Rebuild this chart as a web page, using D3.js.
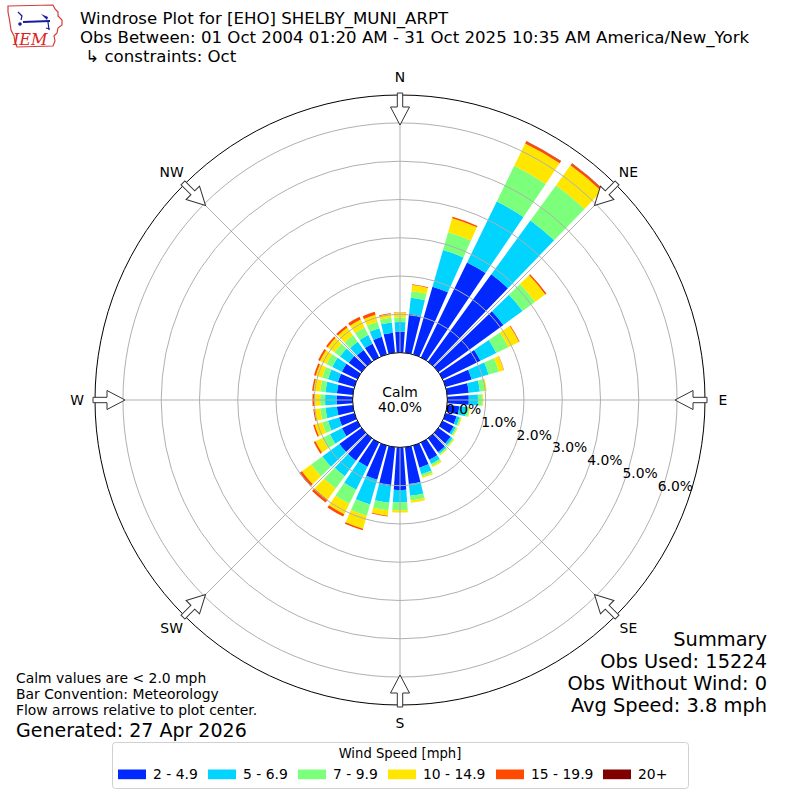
<!DOCTYPE html>
<html>
<head>
<meta charset="utf-8">
<script src="https://cdn.jsdelivr.net/npm/d3@7"></script>
<style>
body { margin: 0; background: #fff; }
svg { display: block; font-family: "DejaVu Sans", sans-serif; }
</style>
</head>
<body>
<script>
// direction bins, degrees (meteorological, clockwise from N)
var directions = d3.range(0, 360, 10);
var speedBins = ["2 - 4.9", "5 - 6.9", "7 - 9.9", "10 - 14.9", "15 - 19.9", "20+"];
var binColors = ["#0028ff", "#00d4ff", "#7cff7a", "#ffe600", "#ff4a00", "#800000"];

// percent of obs per direction, one array per speed bin
var pct2to5 = [0.55, 1.02, 1.84, 2.76, 2.82, 2.10, 1.10, 0.71, 0.57, 0.56, 0.32, 0.30,
               0.32, 0.40, 0.45, 0.50, 0.60, 0.97, 1.11, 1.02, 0.93, 0.70, 0.72, 0.72,
               0.45, 0.42, 0.42, 0.42, 0.42, 0.45, 0.45, 0.42, 0.38, 0.40, 0.48, 0.53];
var pct5to7 = [0.25, 0.43, 1.00, 1.77, 1.74, 0.62, 0.46, 0.46, 0.29, 0.24, 0.20, 0.08,
               0.06, 0.06, 0.05, 0.12, 0.18, 0.31, 0.33, 0.44, 0.67, 0.67, 0.50, 0.55,
               0.35, 0.30, 0.30, 0.30, 0.30, 0.27, 0.28, 0.28, 0.26, 0.25, 0.23, 0.27];
var pct7to10 = [0.12, 0.17, 0.48, 1.04, 1.14, 0.40, 0.35, 0.28, 0.13, 0.12, 0.06, 0.04,
                0.04, 0.04, 0.03, 0.05, 0.06, 0.12, 0.20, 0.20, 0.31, 0.41, 0.40, 0.36,
                0.22, 0.16, 0.14, 0.13, 0.14, 0.16, 0.17, 0.18, 0.21, 0.22, 0.18, 0.12];
var pct10to15 = [0.12, 0.16, 0.38, 0.65, 0.64, 0.33, 0.31, 0.13, 0.05, 0.02, 0.02, 0.02,
                 0.02, 0.02, 0.02, 0.04, 0.04, 0.06, 0.06, 0.14, 0.35, 0.30, 0.36, 0.30,
                 0.20, 0.20, 0.15, 0.16, 0.17, 0.17, 0.19, 0.22, 0.25, 0.23, 0.19, 0.10];
var pct15to20 = [0.01, 0.02, 0.04, 0.06, 0.06, 0.04, 0.02, 0.01, 0.00, 0.00, 0.00, 0.00,
                 0.00, 0.00, 0.00, 0.00, 0.00, 0.00, 0.00, 0.02, 0.04, 0.07, 0.09, 0.07,
                 0.05, 0.04, 0.03, 0.04, 0.04, 0.05, 0.05, 0.05, 0.06, 0.08, 0.08, 0.02];
var pct20up = [0.00, 0.00, 0.00, 0.01, 0.01, 0.00, 0.00, 0.00, 0.00, 0.00, 0.00, 0.00,
               0.00, 0.00, 0.00, 0.00, 0.00, 0.00, 0.00, 0.00, 0.00, 0.00, 0.00, 0.01,
               0.00, 0.00, 0.00, 0.00, 0.00, 0.00, 0.00, 0.00, 0.00, 0.00, 0.00, 0.00];
var series = [pct2to5, pct5to7, pct7to10, pct10to15, pct15to20, pct20up];

var ringTicks = [0, 1, 2, 3, 4, 5, 6];
var compass = ["N", "NE", "E", "SE", "S", "SW", "W", "NW"];
var titleLines = ["Windrose Plot for [EHO] SHELBY_MUNI_ARPT",
                  "Obs Between: 01 Oct 2004 01:20 AM - 31 Oct 2025 10:35 AM America/New_York",
                  " \u21b3 constraints: Oct"];
var notes = ["Calm values are < 2.0 mph", "Bar Convention: Meteorology", "Flow arrows relative to plot center."];
var summary = ["Summary", "Obs Used: 15224", "Obs Without Wind: 0", "Avg Speed: 3.8 mph"];
var calmPct = 40.0;

var w = 800, h = 800;
var cx = 400, cy = 400;
var rCalm = 47.4, rOuter = 305;

var svg = d3.select("body").append("svg")
    .attr("width", w)
    .attr("height", h);

var r = d3.scaleLinear().domain([0, 6.73]).range([rCalm, rOuter]);
var rad = function(deg) { return deg * Math.PI / 180; };

var plot = svg.append("g").attr("transform", "translate(" + cx + "," + cy + ")");

plot.append("circle").attr("r", rOuter).attr("fill", "white").attr("stroke", "none");

// stacked bars
var stack = directions.map(function(d, i) {
    var acc = 0;
    return series.map(function(s, k) {
        var lo = acc;
        acc += s[i];
        return {dir: d, k: k, lo: lo, hi: acc};
    });
});

var arc = d3.arc()
    .innerRadius(function(d) { return r(d.lo); })
    .outerRadius(function(d) { return r(d.hi); })
    .startAngle(function(d) { return rad(d.dir - 4); })
    .endAngle(function(d) { return rad(d.dir + 4); });

plot.append("g").selectAll("g").data(stack).enter()
    .append("g")
    .selectAll("path").data(function(d) { return d.filter(function(s) { return s.hi > s.lo; }); })
    .enter().append("path")
    .attr("d", arc)
    .attr("fill", function(d) { return binColors[d.k]; });

// grid on top of bars
var grid = plot.append("g").attr("fill", "none").attr("stroke", "#b0b0b0").attr("stroke-width", 1);
grid.selectAll("circle").data(ringTicks.slice(1)).enter()
    .append("circle").attr("r", function(d) { return r(d); });
grid.selectAll("line").data(d3.range(0, 360, 45)).enter()
    .append("line")
    .attr("x1", function(d) { return rCalm * Math.sin(rad(d)); })
    .attr("y1", function(d) { return -rCalm * Math.cos(rad(d)); })
    .attr("x2", function(d) { return rOuter * Math.sin(rad(d)); })
    .attr("y2", function(d) { return -rOuter * Math.cos(rad(d)); });

plot.append("circle").attr("r", rOuter).attr("fill", "none").attr("stroke", "black").attr("stroke-width", 1);

// calm circle
plot.append("circle").attr("r", rCalm).attr("fill", "white").attr("stroke", "black").attr("stroke-width", 1);
plot.append("text").attr("text-anchor", "middle").attr("y", -3.5).attr("font-size", "13.9px").text("Calm");
plot.append("text").attr("text-anchor", "middle").attr("y", 12).attr("font-size", "13.9px")
    .text(calmPct.toFixed(1) + "%");

// radial tick labels, along a line just below east
plot.append("g").selectAll("text").data(ringTicks).enter()
    .append("text")
    .attr("x", function(d) { return r(d) * 0.922 + 2.3; })
    .attr("y", function(d) { return r(d) * 0.334 - 1.8; })
    .attr("font-size", "13.9px")
    .text(function(d) { return d.toFixed(1) + "%"; });

// compass arrows pointing to center
var arrowPath = "M-2.7,-307L2.7,-307L2.7,-293L9.5,-293L0,-275L-9.5,-293L-2.7,-293Z";
plot.append("g").selectAll("path").data(compass).enter()
    .append("path")
    .attr("d", arrowPath)
    .attr("transform", function(d, i) { return "rotate(" + (i * 45) + ")"; })
    .attr("fill", "white")
    .attr("stroke", "#333")
    .attr("stroke-width", 1);

plot.append("g").selectAll("text").data(compass).enter()
    .append("text")
    .attr("x", function(d, i) { return 323 * Math.sin(rad(i * 45)); })
    .attr("y", function(d, i) { return -323 * Math.cos(rad(i * 45)); })
    .attr("text-anchor", "middle")
    .attr("dominant-baseline", "central")
    .attr("font-size", "13.9px")
    .text(function(d) { return d; });

// title
svg.append("g").selectAll("text").data(titleLines).enter()
    .append("text")
    .attr("x", 80)
    .attr("y", function(d, i) { return 24 + i * 18.8; })
    .attr("font-size", "16.6px")
    .attr("xml:space", "preserve")
    .text(function(d) { return d; });

// IEM logo
var logo = svg.append("g");
logo.append("path")
    .attr("d", "M8,6L53,5L55,9L58,12L58,16L62,20L62,25L58,28L57,33L54,36L55,41L53,46L17,47L15,42L14,36L11,30L10,23L9,17L8,12Z")
    .attr("fill", "none").attr("stroke", "#d23c3c").attr("stroke-width", 1.2);
logo.append("path").attr("d", "M23,22L50,21").attr("stroke", "#1a1aa0").attr("stroke-width", 2);
logo.append("path").attr("d", "M18,12L22,16L21,20").attr("fill", "none").attr("stroke", "#1a1aa0").attr("stroke-width", 1.2);
logo.append("path").attr("d", "M41,14L48,17L47,20Z").attr("fill", "#1a1aa0");
logo.append("path").attr("d", "M48,22L49,30M46,28L50,29").attr("stroke", "#1a1aa0").attr("stroke-width", 1.2);
logo.append("circle").attr("cx", 20).attr("cy", 24).attr("r", 1.8).attr("fill", "#1a1aa0");
logo.append("text").attr("x", 13).attr("y", 45).attr("font-family", "DejaVu Serif, serif")
    .attr("font-style", "italic").attr("font-size", "16px").attr("fill", "#d22").text("IEM");

// notes, bottom left
svg.append("g").selectAll("text").data(notes).enter()
    .append("text")
    .attr("x", 16)
    .attr("y", function(d, i) { return 683 + i * 16; })
    .attr("font-size", "13.9px")
    .text(function(d) { return d; });
svg.append("text").attr("x", 16).attr("y", 737).attr("font-size", "19px").text("Generated: 27 Apr 2026");

// summary, bottom right
svg.append("g").selectAll("text").data(summary).enter()
    .append("text")
    .attr("x", 767)
    .attr("y", function(d, i) { return 646 + i * 22; })
    .attr("text-anchor", "end")
    .attr("font-size", "19.4px")
    .text(function(d) { return d; });

// legend
var legendX = [118, 208, 298, 388, 496, 603];
var leg = svg.append("g");
leg.append("rect").attr("x", 112.5).attr("y", 742.5).attr("width", 576).attr("height", 46)
    .attr("rx", 3).attr("fill", "white").attr("stroke", "#d0d0d0");
leg.append("text").attr("x", 400).attr("y", 758).attr("text-anchor", "middle")
    .attr("font-size", "13.2px").text("Wind Speed [mph]");
var items = leg.selectAll("g.item").data(speedBins).enter().append("g").attr("class", "item")
    .attr("transform", function(d, i) { return "translate(" + legendX[i] + ",0)"; });
items.append("rect").attr("y", 769.5).attr("width", 28).attr("height", 9.7)
    .attr("fill", function(d, i) { return binColors[i]; });
items.append("text").attr("x", 35).attr("y", 779).attr("font-size", "13.9px")
    .text(function(d) { return d; });
</script>
</body>
</html>
